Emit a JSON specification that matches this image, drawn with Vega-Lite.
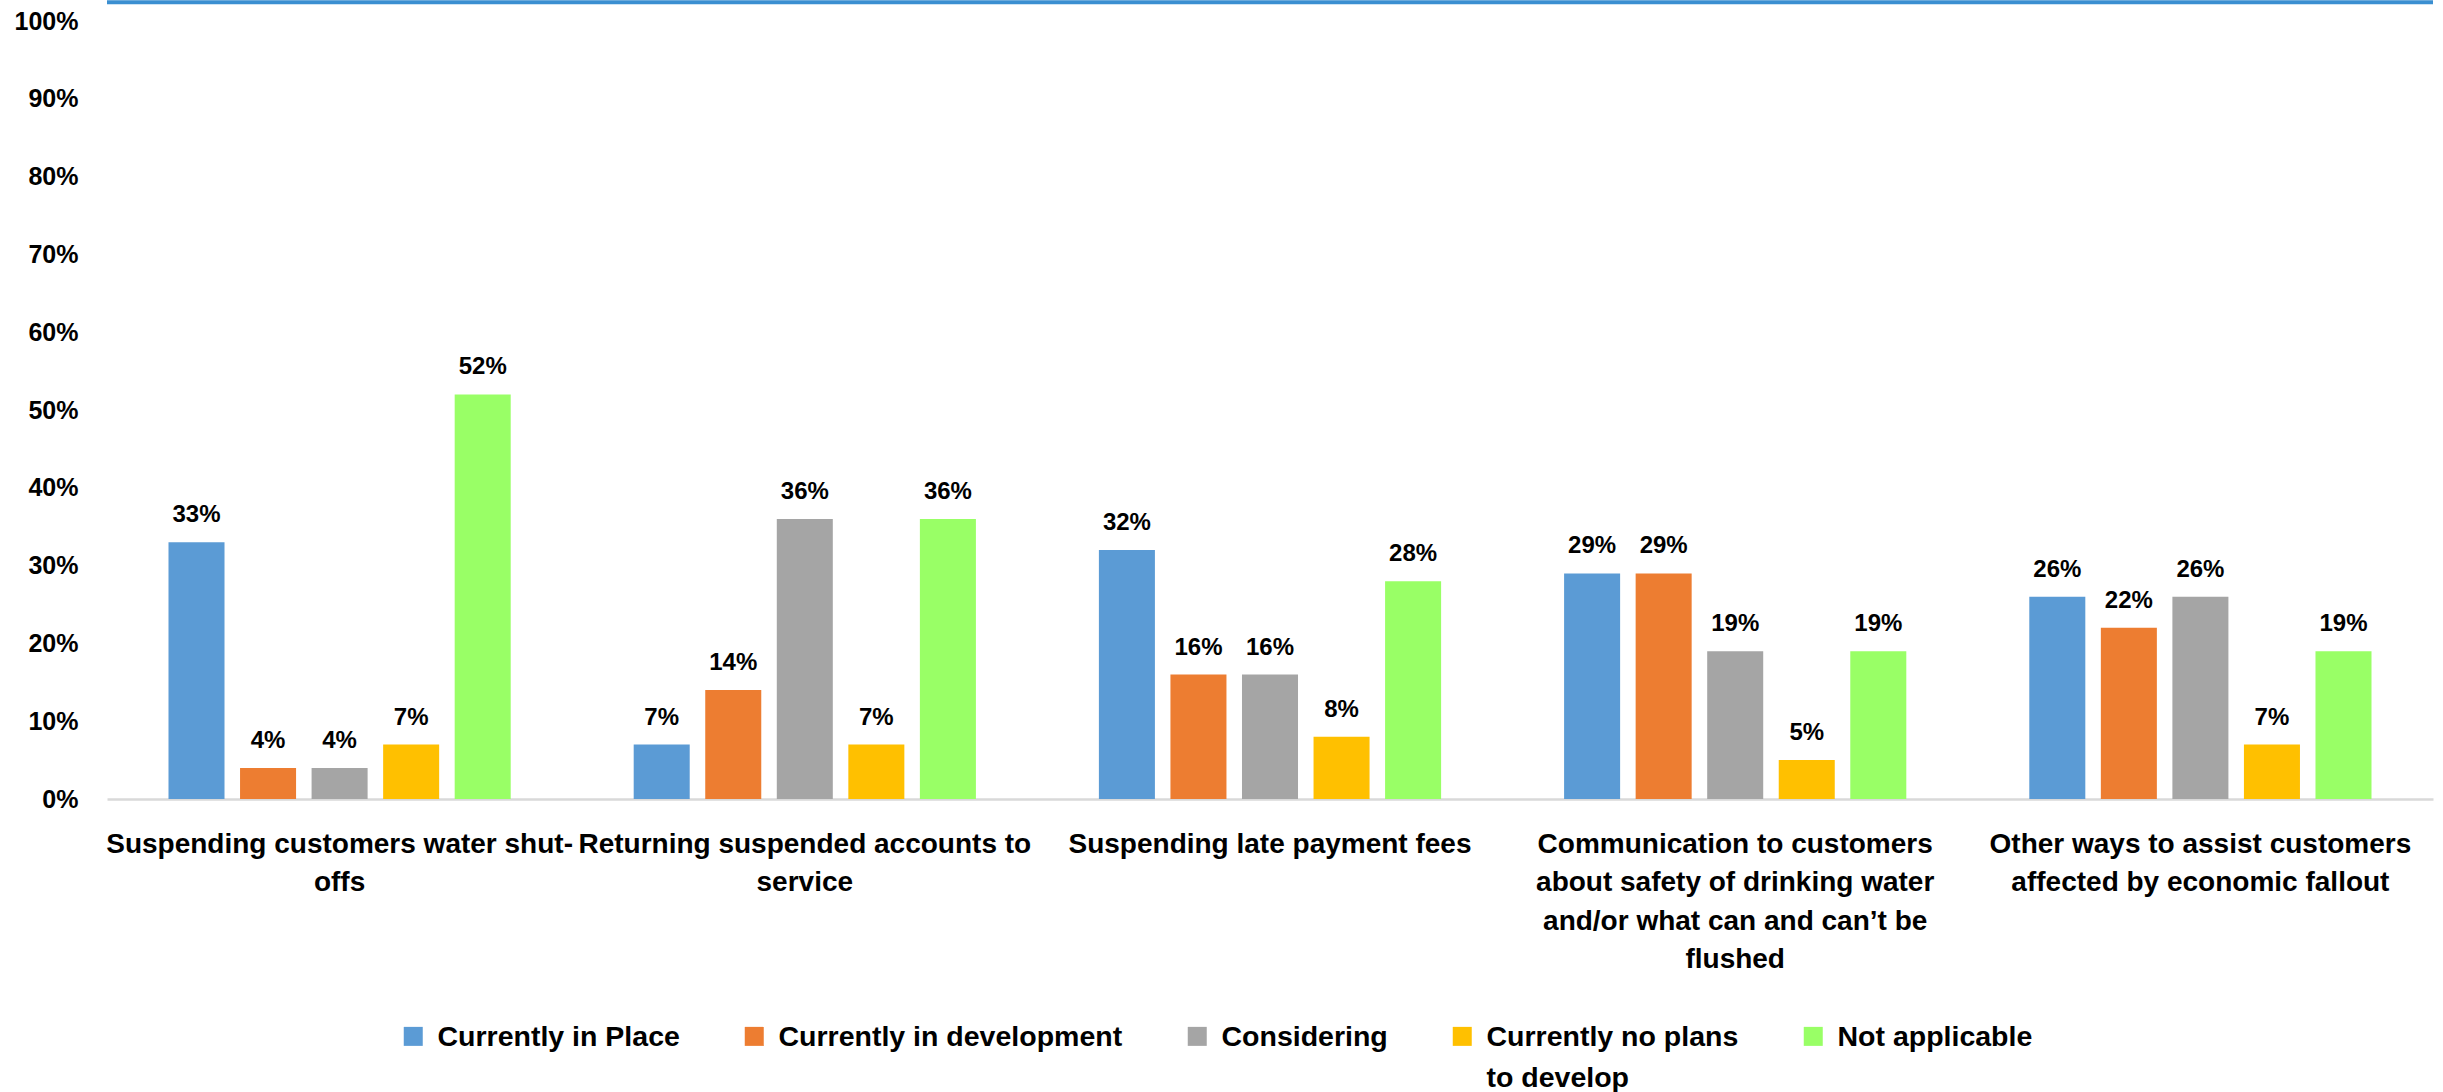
{
  "$schema": "https://vega.github.io/schema/vega-lite/v6.json",
  "width": 2326,
  "height": 778,
  "autosize": {"type": "none"},
  "padding": {"left": 107, "top": 21, "right": 10, "bottom": 293},
  "background": "white",
  "config": {
    "view": {"stroke": null},
    "font": "Liberation Sans",
    "axis": {"labelFont": "Liberation Sans", "labelFontWeight": "bold", "labelColor": "#000000", "labelFontSize": 25},
    "legend": {"labelFont": "Liberation Sans", "labelFontWeight": "bold", "labelColor": "#000000", "labelFontSize": 28.5}
  },
  "data": {
    "values": [
      {"measure": "Suspending customers water shut-offs", "status": "Currently in Place", "value": 0.33},
      {"measure": "Suspending customers water shut-offs", "status": "Currently in development", "value": 0.04},
      {"measure": "Suspending customers water shut-offs", "status": "Considering", "value": 0.04},
      {"measure": "Suspending customers water shut-offs", "status": "Currently no plans to develop", "value": 0.07},
      {"measure": "Suspending customers water shut-offs", "status": "Not applicable", "value": 0.52},
      {"measure": "Returning suspended accounts to service", "status": "Currently in Place", "value": 0.07},
      {"measure": "Returning suspended accounts to service", "status": "Currently in development", "value": 0.14},
      {"measure": "Returning suspended accounts to service", "status": "Considering", "value": 0.36},
      {"measure": "Returning suspended accounts to service", "status": "Currently no plans to develop", "value": 0.07},
      {"measure": "Returning suspended accounts to service", "status": "Not applicable", "value": 0.36},
      {"measure": "Suspending late payment fees", "status": "Currently in Place", "value": 0.32},
      {"measure": "Suspending late payment fees", "status": "Currently in development", "value": 0.16},
      {"measure": "Suspending late payment fees", "status": "Considering", "value": 0.16},
      {"measure": "Suspending late payment fees", "status": "Currently no plans to develop", "value": 0.08},
      {"measure": "Suspending late payment fees", "status": "Not applicable", "value": 0.28},
      {"measure": "Communication to customers about safety of drinking water and/or what can and can’t be flushed", "status": "Currently in Place", "value": 0.29},
      {"measure": "Communication to customers about safety of drinking water and/or what can and can’t be flushed", "status": "Currently in development", "value": 0.29},
      {"measure": "Communication to customers about safety of drinking water and/or what can and can’t be flushed", "status": "Considering", "value": 0.19},
      {"measure": "Communication to customers about safety of drinking water and/or what can and can’t be flushed", "status": "Currently no plans to develop", "value": 0.05},
      {"measure": "Communication to customers about safety of drinking water and/or what can and can’t be flushed", "status": "Not applicable", "value": 0.19},
      {"measure": "Other ways to assist customers affected by economic fallout", "status": "Currently in Place", "value": 0.26},
      {"measure": "Other ways to assist customers affected by economic fallout", "status": "Currently in development", "value": 0.22},
      {"measure": "Other ways to assist customers affected by economic fallout", "status": "Considering", "value": 0.26},
      {"measure": "Other ways to assist customers affected by economic fallout", "status": "Currently no plans to develop", "value": 0.07},
      {"measure": "Other ways to assist customers affected by economic fallout", "status": "Not applicable", "value": 0.19}
    ]
  },
  "encoding": {
    "x": {
      "field": "measure", "type": "nominal", "sort": null, "title": null,
      "scale": {"paddingInner": 0.231, "paddingOuter": 0.1155},
      "axis": {
        "labelAngle": 0, "ticks": false, "tickSize": 0, "labelPadding": 31, "labelFontSize": 28,
        "domainColor": "#d9d9d9", "domainWidth": 2.5,
        "labelLineHeight": 38.5, "labelLimit": 2000, "labelOverlap": false, "labelBaseline": "top",
        "labelExpr": "datum.value == 'Suspending customers water shut-offs' ? ['Suspending customers water shut-', 'offs'] : datum.value == 'Returning suspended accounts to service' ? ['Returning suspended accounts to', 'service'] : datum.value == 'Other ways to assist customers affected by economic fallout' ? ['Other ways to assist customers', 'affected by economic fallout'] : datum.value == 'Suspending late payment fees' ? datum.value : ['Communication to customers', 'about safety of drinking water', 'and/or what can and can’t be', 'flushed']"
      }
    },
    "xOffset": {
      "field": "status", "type": "nominal", "sort": null,
      "scale": {"paddingInner": 0.217, "paddingOuter": 0.1085}
    },
    "y": {
      "field": "value", "type": "quantitative", "title": null,
      "scale": {"domain": [0, 1], "nice": false},
      "axis": {
        "values": [0, 0.1, 0.2, 0.3, 0.4, 0.5, 0.6, 0.7, 0.8, 0.9, 1],
        "format": ".0%", "grid": false, "domain": false, "ticks": false, "tickSize": 0,
        "labelPadding": 29
      }
    }
  },
  "layer": [
    {
      "mark": {"type": "bar"},
      "encoding": {
        "color": {
          "field": "status", "type": "nominal", "sort": null, "title": null,
          "scale": {
            "domain": ["Currently in Place", "Currently in development", "Considering", "Currently no plans to develop", "Not applicable"],
            "range": ["#5b9bd5", "#ed7d31", "#a5a5a5", "#ffc000", "#99ff66"]
          },
          "legend": {
            "orient": "none", "legendX": 292, "legendY": 1001,
            "direction": "horizontal", "columns": 5, "padding": 0,
            "symbolType": "square", "symbolSize": 361, "symbolStrokeWidth": 0,
            "labelOffset": 10, "columnPadding": 60, "labelLimit": 1000,
            "labelLineHeight": 41, "labelBaseline": "alphabetic",
            "labelExpr": "datum.label == 'Currently no plans to develop' ? ['Currently no plans', 'to develop'] : [datum.label, '']",
            "encode": {"labels": {"update": {"baseline": {"value": "alphabetic"}, "lineHeight": {"value": 41}, "dy": {"value": 10}}}}
          }
        }
      }
    },
    {
      "mark": {"type": "text", "baseline": "alphabetic", "dy": -20, "fontSize": 24, "fontWeight": "bold", "font": "Liberation Sans", "color": "#000000"},
      "encoding": {
        "text": {"field": "value", "type": "quantitative", "format": ".0%"}
      }
    },
    {
      "data": {"values": [{"edge": 1.024}]},
      "mark": {"type": "rule", "color": "#3b8fd1", "strokeWidth": 4, "clip": false},
      "encoding": {"y": {"field": "edge", "type": "quantitative"}, "x": null, "xOffset": null}
    }
  ]
}
